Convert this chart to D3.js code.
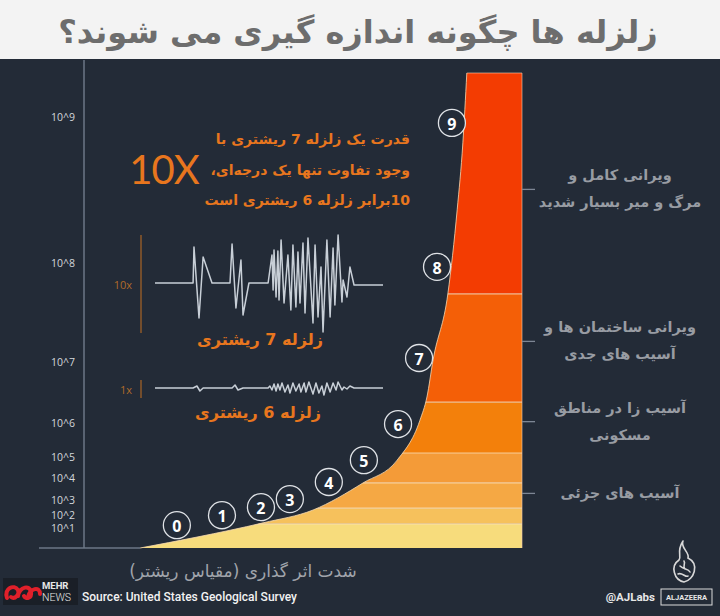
<!DOCTYPE html>
<html>
<head>
<meta charset="utf-8">
<script src="https://cdn.jsdelivr.net/npm/d3@7"></script>
<style>
  html, body { margin: 0; padding: 0; background: #232b37; }
  svg { display: block; }
</style>
</head>
<body>
<svg id="chart" width="720" height="616"></svg>
<script>
// ---------------- data ----------------
const title = "زلزله ها چگونه اندازه گیری می شوند؟";
const yTickLabels = ["10^1", "10^2", "10^3", "10^4", "10^5", "10^6", "10^7", "10^8", "10^9"];
const yTickHeights = [4.2, 6.9, 10.1, 14.7, 19.2, 26.3, 39.2, 60.0, 90.7];

// energy curve (relative horizontal position, relative height)
const curveX = [12.8, 25.8, 40.9, 52.3, 63.7, 71.5, 76.7, 78.3, 79.7, 83.1, 85.2, 86.5, 87.4];
const curveH = [0, 2.3, 5.3, 8.0, 13.7, 18.5, 26.9, 31.8, 39.6, 53.7, 71.2, 85.3, 100];

// magnitude markers
const magnitudes = [0, 1, 2, 3, 4, 5, 6, 7, 8, 9];
const magX = [21.2, 31.5, 40.4, 47.0, 55.9, 63.9, 71.7, 76.5, 80.6, 84.0];
const magH = [4.8, 6.9, 8.6, 10.3, 13.9, 18.5, 26.1, 40.0, 59.2, 89.5];

// colour bands (tops, bottom to top)
const bandTops = [5.1, 8.4, 13.7, 20.0, 30.7, 53.5, 100];
const bandColors = ["#f7dc7c", "#f6c15c", "#f5a844", "#f49b38", "#f3800b", "#f45f07", "#f33c02"];

// damage labels (right side)
const damageLabels = [
  ["ویرانی کامل و", "مرگ و میر بسیار شدید"],
  ["ویرانی ساختمان ها و", "آسیب های جدی"],
  ["آسیب زا در مناطق", "مسکونی"],
  ["آسیب های جزئی"]
];
const damageH = [75.6, 43.6, 26.7, 11.6];

// seismograph traces
const wave7T = [0, 16.7, 17.1, 19.3, 21.1, 25.0, 32.9, 33.8, 35.5, 37.7, 38.6, 41.2, 49.6, 51.3, 51.8, 52.2, 53.1, 53.9, 54.4, 55.3, 56.6, 58.3, 59.6, 60.5, 61.8, 62.7, 63.6, 64.9, 65.8, 67.1, 69.3, 70.2, 71.5, 72.8, 73.7, 75.4, 76.8, 78.1, 78.9, 80.3, 82.0, 82.5, 84.2, 85.5, 87.3, 100];
const wave7A = [0, 0, 36, -35, 26, 0, 0, 39, -25, 23, -32, 0, 0, 28, -7, 33, -14, 32, -17, 43, -20, 28, -27, 38, -24, 31, -20, 40, -30, 45, -40, 38, -34, 16, -49, 43, -34, 35, -22, 48, -19, 3, -14, 16, -2, -2];
const wave6T = [0, 16.7, 18.4, 19.7, 21.1, 33.8, 35.1, 36.4, 38.6, 49.6, 50.4, 51.3, 52.2, 53.1, 53.9, 54.8, 55.7, 57.0, 58.3, 59.2, 60.5, 61.8, 63.2, 64.0, 65.4, 66.2, 67.5, 69.3, 70.6, 71.9, 73.2, 74.1, 75.4, 76.8, 78.1, 79.4, 80.3, 82.0, 82.9, 84.2, 85.5, 87.3, 100];
const wave6A = [0, 0, 2, -3, 0, 0, 3, -2, 0, 0, 2, -2, 4, -3, 4, -2, 5, -4, 3, -5, 5, -3, 4, -4, 5, -4, 6, -6, 5, -5, 2, -7, 5, -4, 5, -2, 6, -2, 1, -1, 2, 0, 0];

const annotationLines = ["قدرت یک زلزله 7 ریشتری با", "وجود تفاوت تنها یک درجه‌ای،", "10برابر زلزله 6 ریشتری است"];
const wave7Label = "زلزله 7 ریشتری";
const wave6Label = "زلزله 6 ریشتری";
const xAxisLabel = "شدت اثر گذاری (مقیاس ریشتر)";
const sourceText = "Source: United States Geological Survey";

// ---------------- drawing ----------------
const W = 720, H = 616;
const BG = "#232b37";
const ORANGE = "#e8761e";
const FA = "'DejaVu Sans', sans-serif";
const svg = d3.select("#chart");

svg.append("rect").attr("width", W).attr("height", H).attr("fill", BG);
svg.append("rect").attr("width", W).attr("height", 59).attr("fill", "#f3f3f3");
svg.append("text").attr("x", 358).attr("y", 32)
  .attr("text-anchor", "middle").attr("dominant-baseline", "central")
  .attr("direction", "rtl")
  .attr("font-family", FA).attr("font-weight", "bold").attr("font-size", 32)
  .attr("fill", "#6d6d6d").text(title);

const x = d3.scaleLinear().domain([0, 100]).range([84, 522]);
const y = d3.scaleLinear().domain([0, 100]).range([548, 73]);
const pts = curveX.map((d, i) => [d, curveH[i]]);

// clip shape = area under curve + flat top block
const defs = svg.append("defs");
const clip = defs.append("clipPath").attr("id", "areaClip");
const area = d3.area().x(d => x(d[0])).y0(y(0)).y1(d => y(d[1])).curve(d3.curveMonotoneX);
clip.append("path").attr("d", area(pts));
clip.append("rect").attr("x", x(curveX[curveX.length - 1])).attr("y", y(100))
  .attr("width", x(100) - x(curveX[curveX.length - 1])).attr("height", y(0) - y(100));

const bandsG = svg.append("g").attr("clip-path", "url(#areaClip)");
bandTops.forEach((top, i) => {
  const bottom = i === 0 ? 0 : bandTops[i - 1];
  bandsG.append("rect").attr("x", x(0)).attr("width", x(100) - x(0))
    .attr("y", y(top)).attr("height", y(bottom) - y(top)).attr("fill", bandColors[i]);
});
bandTops.slice(0, -1).forEach(t => {
  bandsG.append("line").attr("x1", x(0)).attr("x2", x(100))
    .attr("y1", y(t)).attr("y2", y(t))
    .attr("stroke", "#fbe3c0").attr("stroke-opacity", 0.75).attr("stroke-width", 1.2);
});

// outline
const line = d3.line().x(d => x(d[0])).y(d => y(d[1])).curve(d3.curveMonotoneX);
svg.append("path").attr("d", line(pts)).attr("fill", "none")
  .attr("stroke", "#f8d9b0").attr("stroke-opacity", 0.8).attr("stroke-width", 1);
svg.append("path")
  .attr("d", d3.line()([[x(curveX[curveX.length - 1]), y(100)], [x(100), y(100)], [x(100), y(0)]]))
  .attr("fill", "none").attr("stroke", "#f8d0b0").attr("stroke-opacity", 0.6).attr("stroke-width", 1);

// axes lines
svg.append("line").attr("x1", 84).attr("x2", 84).attr("y1", 60).attr("y2", y(0))
  .attr("stroke", "#6d7787").attr("stroke-width", 1.5);
svg.append("line").attr("x1", 39).attr("x2", x(curveX[0])).attr("y1", y(0)).attr("y2", y(0))
  .attr("stroke", "#6d7787").attr("stroke-width", 1.5);

// left tick labels
const yAxis = d3.axisLeft(y).tickValues(yTickHeights).tickFormat((d, i) => yTickLabels[i]).tickSize(0).tickPadding(9);
const yg = svg.append("g").attr("transform", "translate(84,0)").call(yAxis);
yg.select(".domain").remove();
yg.selectAll("text").attr("fill", "#d3d7dc").attr("font-family", "'Open Sans', sans-serif").attr("font-size", 10.5);

// right ticks + labels
const rAxis = d3.axisRight(y).tickValues(damageH).tickSize(13).tickFormat("");
const rg = svg.append("g").attr("transform", `translate(${x(100)},0)`).call(rAxis);
rg.select(".domain").remove();
rg.selectAll("line").attr("stroke", "#7d8694").attr("stroke-width", 1.3);
damageLabels.forEach((lines, i) => {
  const cy = y(damageH[i]);
  const n = lines.length;
  lines.forEach((t, j) => {
    svg.append("text").attr("x", 620).attr("y", cy + (j - (n - 1) / 2) * 27)
      .attr("text-anchor", "middle").attr("dominant-baseline", "central").attr("direction", "rtl")
      .attr("font-family", FA).attr("font-weight", "bold").attr("font-size", 14.5)
      .attr("fill", "#989ca3").text(t);
  });
});

// magnitude circles
const mg = svg.append("g");
magnitudes.forEach((m, i) => {
  const cx = x(magX[i]), cy = y(magH[i]);
  mg.append("circle").attr("cx", cx).attr("cy", cy).attr("r", 13.5)
    .attr("fill", BG).attr("stroke", "#dfe2e6").attr("stroke-width", 1.3);
  mg.append("text").attr("x", cx).attr("y", cy + 1)
    .attr("text-anchor", "middle").attr("dominant-baseline", "central")
    .attr("font-family", "'Open Sans', sans-serif").attr("font-weight", "bold").attr("font-size", 16)
    .attr("fill", "#ffffff").text(m);
});

// annotation
svg.append("text").attr("x", 164).attr("y", 169).attr("text-anchor", "middle").attr("dominant-baseline", "central")
  .attr("font-family", "Lato, sans-serif").attr("font-weight", 400).attr("font-size", 40)
  .attr("letter-spacing", -1).attr("fill", ORANGE).text("10X");
annotationLines.forEach((t, i) => {
  svg.append("text").attr("x", 410).attr("y", 139 + i * 30.5)
    .attr("text-anchor", "start").attr("direction", "rtl").attr("dominant-baseline", "central")
    .attr("font-family", FA).attr("font-weight", "bold").attr("font-size", 14)
    .attr("fill", ORANGE).text(t);
});

// seismographs
const wx = d3.scaleLinear().domain([0, 100]).range([155, 383]);
const wy7 = d3.scaleLinear().domain([-50, 50]).range([333, 233]);
const wy6 = d3.scaleLinear().domain([-50, 50]).range([438, 338]);
const w7 = wave7T.map((t, i) => [t, wave7A[i]]);
const w6 = wave6T.map((t, i) => [t, wave6A[i]]);
svg.append("path").attr("d", d3.line().x(d => wx(d[0])).y(d => wy7(d[1]))(w7))
  .attr("fill", "none").attr("stroke", "#c8cfd7").attr("stroke-width", 1.5).attr("stroke-linejoin", "round");
svg.append("path").attr("d", d3.line().x(d => wx(d[0])).y(d => wy6(d[1]))(w6))
  .attr("fill", "none").attr("stroke", "#c8cfd7").attr("stroke-width", 1.5).attr("stroke-linejoin", "round");
svg.append("line").attr("x1", 141).attr("x2", 141).attr("y1", 235).attr("y2", 333)
  .attr("stroke", "#8f5a2a").attr("stroke-width", 1.5);
svg.append("line").attr("x1", 141).attr("x2", 141).attr("y1", 380).attr("y2", 398)
  .attr("stroke", "#8f5a2a").attr("stroke-width", 1.5);
svg.append("text").attr("x", 132).attr("y", 284).attr("text-anchor", "end").attr("dominant-baseline", "central")
  .attr("font-family", "'Open Sans', sans-serif").attr("font-size", 11).attr("fill", "#b06a2a").text("10x");
svg.append("text").attr("x", 132).attr("y", 389).attr("text-anchor", "end").attr("dominant-baseline", "central")
  .attr("font-family", "'Open Sans', sans-serif").attr("font-size", 11).attr("fill", "#b06a2a").text("1x");
svg.append("text").attr("x", 260).attr("y", 339).attr("text-anchor", "middle").attr("direction", "rtl")
  .attr("dominant-baseline", "central").attr("font-family", FA).attr("font-weight", "bold").attr("font-size", 16)
  .attr("fill", ORANGE).text(wave7Label);
svg.append("text").attr("x", 258).attr("y", 412).attr("text-anchor", "middle").attr("direction", "rtl")
  .attr("dominant-baseline", "central").attr("font-family", FA).attr("font-weight", "bold").attr("font-size", 16)
  .attr("fill", ORANGE).text(wave6Label);

// x-axis title
svg.append("text").attr("x", 243).attr("y", 571).attr("text-anchor", "middle").attr("direction", "rtl")
  .attr("dominant-baseline", "central").attr("font-family", FA).attr("font-size", 17)
  .attr("fill", "#a0a4ab").text(xAxisLabel);

// footer: Mehr logo
const logo = svg.append("g");
logo.append("rect").attr("x", 3).attr("y", 578).attr("width", 75).attr("height", 27).attr("fill", "#1a1f27");
logo.append("path").attr("d", "M7,598 C4,588 14,584 18,590 C20,594 15,600 11,597 M18,596 C20,586 30,585 31,592 C32,598 26,600 24,596 M28,597 C30,588 40,586 40,594")
  .attr("fill", "none").attr("stroke", "#e0202a").attr("stroke-width", 4).attr("stroke-linecap", "round");
logo.append("text").attr("x", 42).attr("y", 589).attr("font-family", "Roboto, sans-serif").attr("font-weight", "bold")
  .attr("font-size", 9.5).attr("fill", "#e8e8e8").text("MEHR");
logo.append("text").attr("x", 42).attr("y", 601).attr("font-family", "Roboto, sans-serif").attr("font-weight", 300)
  .attr("font-size", 10.5).attr("fill", "#e8e8e8").text("NEWS");
svg.append("text").attr("x", 82).attr("y", 597).attr("dominant-baseline", "central")
  .attr("font-family", "Roboto, sans-serif").attr("font-weight", 500).attr("font-size", 12)
  .attr("textLength", 215).attr("lengthAdjust", "spacingAndGlyphs")
  .attr("fill", "#f2f2f2").text(sourceText);

// footer: Al Jazeera
svg.append("text").attr("x", 655).attr("y", 597).attr("text-anchor", "end").attr("dominant-baseline", "central")
  .attr("font-family", "Roboto, sans-serif").attr("font-weight", "bold").attr("font-size", 11.5)
  .attr("fill", "#e6e6e6").text("@AJLabs");
svg.append("rect").attr("x", 661).attr("y", 589).attr("width", 51).attr("height", 16)
  .attr("fill", "none").attr("stroke", "#dcdcdc").attr("stroke-width", 1);
svg.append("text").attr("x", 686.5).attr("y", 597.5).attr("text-anchor", "middle").attr("dominant-baseline", "central")
  .attr("font-family", "Roboto, sans-serif").attr("font-weight", "bold").attr("font-size", 7.5)
  .attr("fill", "#e6e6e6").text("ALJAZEERA");
const aj = svg.append("g").attr("fill", "none").attr("stroke", "#d8d8d8").attr("stroke-width", 1.6).attr("stroke-linecap", "round");
aj.append("path").attr("d", "M683,541 C680,548 690,552 688,558 C700,564 694,580 684,582 C674,580 670,566 679,560 C682,556 676,552 683,541");
aj.append("path").attr("d", "M680,566 C684,570 688,568 690,572 M678,574 C682,572 686,578 688,576 M684,561 C686,564 682,566 685,569");
</script>
</body>
</html>
